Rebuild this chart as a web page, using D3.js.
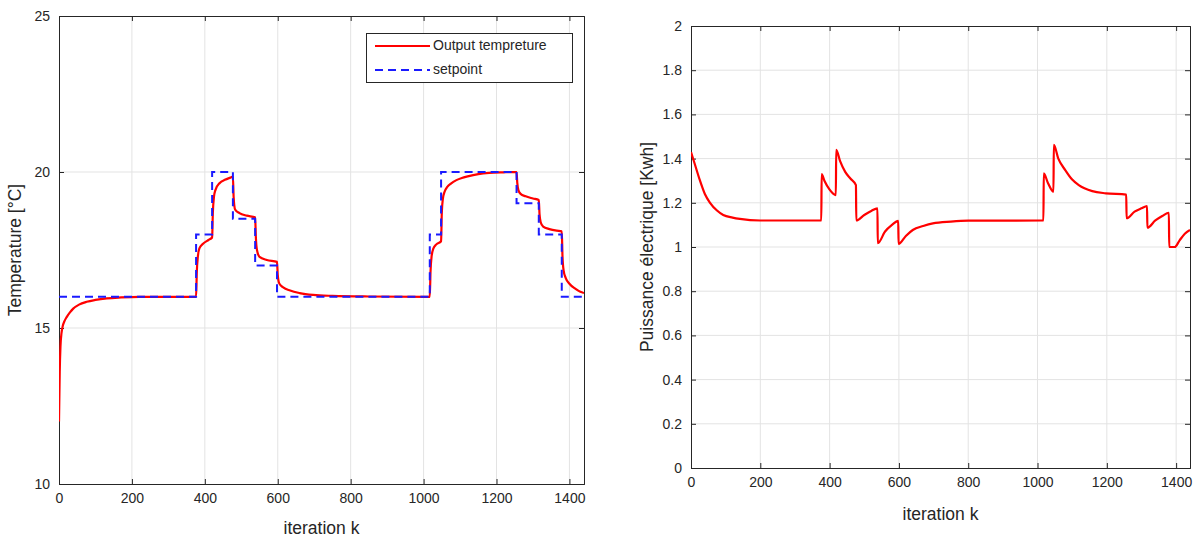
<!DOCTYPE html>
<html><head><meta charset="utf-8">
<script src="https://cdn.jsdelivr.net/npm/d3@7"></script>
<style>
body{margin:0;background:#fff;}
svg{display:block;font-family:"Liberation Sans",Arial,Helvetica,sans-serif;}
</style></head>
<body>
<svg id="c" width="1204" height="541"></svg>
<script>
// ---- Left chart: temperature ----
const tempK = [0,2,4,7,10,15,21,30,39,55,76,100,131,170,220,300,376,378,381,385,395,410,420,422,425,429,441,455,470,477,479,483,495,515,538,540,543,550,570,598,600,604,615,634,660,697,750,850,1017,1019,1022,1027,1035,1048,1050,1053,1058,1065,1075,1090,1105,1121,1150,1180,1220,1255,1257,1260,1266,1280,1300,1316,1318,1321,1328,1345,1365,1379,1381,1384,1390,1400,1415,1430,1440];
const tempV = [12.0,13.6,14.4,14.85,15.05,15.22,15.35,15.5,15.62,15.75,15.84,15.9,15.95,15.98,16.0,16.0,16.0,16.8,17.3,17.55,17.7,17.82,17.9,18.7,19.2,19.42,19.65,19.75,19.82,19.85,19.2,18.8,18.68,18.6,18.55,17.9,17.5,17.28,17.18,17.12,16.7,16.43,16.3,16.2,16.12,16.06,16.03,16.01,16.0,16.8,17.3,17.55,17.68,17.78,18.7,19.15,19.38,19.52,19.63,19.74,19.81,19.86,19.93,19.97,19.99,20.0,19.65,19.42,19.3,19.22,19.15,19.1,18.65,18.4,18.25,18.17,18.12,18.1,17.3,16.85,16.6,16.42,16.27,16.16,16.12];
const setK = [0,376,420,477,538,598,1017,1048,1255,1316,1379,1440];
const setV = [16,18,20,18.5,17,16,18,20,19,18,16,16];
const tempXTicks = [0,200,400,600,800,1000,1200,1400];
const tempYTicks = [10,15,20,25];
const legendLabels = ["Output tempreture","setpoint"];

// ---- Right chart: electrical power ----
const powK = [0,10,26,40,55,75,93,120,141,200,376,377,385,400,418,419,430,445,460,476,477,500,520,538,539,560,580,598,599,620,640,670,698,750,800,1017,1018,1030,1046,1047,1060,1080,1100,1119,1158,1197,1256,1257,1280,1300,1316,1317,1340,1360,1379,1380,1396,1410,1425,1440];
const powV = [1.43,1.38,1.3,1.24,1.2,1.165,1.145,1.133,1.127,1.12,1.12,1.33,1.3,1.26,1.235,1.44,1.39,1.34,1.31,1.28,1.12,1.145,1.163,1.175,1.017,1.07,1.1,1.118,1.014,1.05,1.077,1.095,1.107,1.115,1.119,1.12,1.333,1.29,1.25,1.462,1.4,1.348,1.305,1.28,1.253,1.243,1.237,1.13,1.16,1.175,1.185,1.087,1.12,1.14,1.155,1.001,1.0,1.03,1.06,1.077];
const powXTicks = [0,200,400,600,800,1000,1200,1400];
const powYTicks = [0,0.2,0.4,0.6,0.8,1,1.2,1.4,1.6,1.8,2];
const xLabel = "iteration k";

const svg = d3.select("#c");
const AX = "#262626", GRID = "#e3e3e3";

function panel(cfg){
  const g = svg.append("g");
  const x = d3.scaleLinear().domain(cfg.xd).range([cfg.l, cfg.r]);
  const y = d3.scaleLinear().domain(cfg.yd).range([cfg.b, cfg.t]);
  const id = "clip"+cfg.name;
  svg.append("clipPath").attr("id", id).append("rect")
    .attr("x", cfg.l).attr("y", cfg.t).attr("width", cfg.r-cfg.l).attr("height", cfg.b-cfg.t);
  // grid
  g.selectAll(".gx").data(cfg.xt.filter(v=>v>cfg.xd[0]&&v<cfg.xd[1])).enter().append("line")
    .attr("x1", d=>x(d)).attr("x2", d=>x(d)).attr("y1", cfg.t).attr("y2", cfg.b)
    .attr("stroke", GRID).attr("stroke-width", 1);
  g.selectAll(".gy").data(cfg.yt.filter(v=>v>cfg.yd[0]&&v<cfg.yd[1])).enter().append("line")
    .attr("y1", d=>y(d)).attr("y2", d=>y(d)).attr("x1", cfg.l).attr("x2", cfg.r)
    .attr("stroke", GRID).attr("stroke-width", 1);
  // axes (inward ticks, box)
  const tl = 5;
  const bottom = d3.axisBottom(x).tickValues(cfg.xt).tickSize(-tl).tickPadding(tl+4).tickFormat(d3.format("d"));
  const left = d3.axisLeft(y).tickValues(cfg.yt).tickSize(-tl).tickPadding(tl+4).tickFormat(cfg.yf);
  const top = d3.axisTop(x).tickValues(cfg.xt).tickSize(-tl).tickFormat("");
  const right = d3.axisRight(y).tickValues(cfg.yt).tickSize(-tl).tickFormat("");
  const styleAxis = s => {
    s.select(".domain").attr("stroke", AX).attr("stroke-width", 1);
    s.selectAll(".tick line").attr("stroke", AX);
    s.selectAll("text").attr("fill", AX).style("font-size", "14px").style("font-family", '"Liberation Sans",Arial,sans-serif');
  };
  g.append("g").attr("transform", `translate(0,${cfg.b})`).call(bottom).call(styleAxis);
  g.append("g").attr("transform", `translate(${cfg.l},0)`).call(left).call(styleAxis);
  g.append("g").attr("transform", `translate(0,${cfg.t})`).call(top).call(styleAxis);
  g.append("g").attr("transform", `translate(${cfg.r},0)`).call(right).call(styleAxis);
  // labels
  g.append("text").attr("x", (cfg.l+cfg.r)/2).attr("y", cfg.xly).attr("text-anchor","middle")
    .attr("fill", AX).style("font-size","17.5px").text(xLabel);
  g.append("text").attr("transform", `translate(${cfg.ylx},${(cfg.t+cfg.b)/2}) rotate(-90)`)
    .attr("text-anchor","middle").attr("dominant-baseline","middle")
    .attr("fill", AX).style("font-size","17.5px").text(cfg.ylabel);
  const plot = g.append("g").attr("clip-path", `url(#${id})`);
  return {x, y, g, plot};
}

// Left panel
const L = panel({name:"L", l:59, r:584, t:16, b:484, xd:[0,1440], yd:[10,25], xt:tempXTicks, yt:tempYTicks,
  yf:d3.format("d"), xly:534, ylx:16, ylabel:"Temperature [°C]"});
const tempData = tempK.map((k,i)=>[k,tempV[i]]);
const setData = setK.map((k,i)=>[k,setV[i]]);
L.plot.append("path").datum(tempData)
  .attr("d", d3.line().x(d=>L.x(d[0])).y(d=>L.y(d[1])).curve(d3.curveMonotoneX))
  .attr("fill","none").attr("stroke","#ff0000").attr("stroke-width",2.2).attr("stroke-linejoin","round");
L.plot.append("path").datum(setData)
  .attr("d", d3.line().x(d=>L.x(d[0])).y(d=>L.y(d[1])).curve(d3.curveStepAfter))
  .attr("fill","none").attr("stroke","#1a1aff").attr("stroke-width",2).attr("stroke-dasharray","8,5");

// Legend
const lg = svg.append("g");
lg.append("rect").attr("x",366.5).attr("y",33.5).attr("width",206).attr("height",49)
  .attr("fill","#fff").attr("stroke",AX).attr("stroke-width",1);
lg.append("line").attr("x1",375).attr("x2",430).attr("y1",46).attr("y2",46)
  .attr("stroke","#ff0000").attr("stroke-width",2.2);
lg.append("line").attr("x1",375).attr("x2",430).attr("y1",70).attr("y2",70)
  .attr("stroke","#1a1aff").attr("stroke-width",2).attr("stroke-dasharray","8,5");
lg.selectAll("text").data(legendLabels).enter().append("text")
  .attr("x",433).attr("y",(d,i)=>46+i*24).attr("dominant-baseline","middle")
  .attr("fill",AX).style("font-size","14px").text(d=>d);

// Right panel
const R = panel({name:"R", l:691, r:1190, t:26, b:468, xd:[0,1440], yd:[0,2], xt:powXTicks, yt:powYTicks,
  yf:d=>d3.format("~g")(d), xly:520, ylx:648, ylabel:"Puissance électrique [Kwh]"});
const powData = powK.map((k,i)=>[k,powV[i]]);
R.plot.append("path").datum(powData)
  .attr("d", d3.line().x(d=>R.x(d[0])).y(d=>R.y(d[1])).curve(d3.curveMonotoneX))
  .attr("fill","none").attr("stroke","#ff0000").attr("stroke-width",2.2).attr("stroke-linejoin","round");
</script>
</body></html>
